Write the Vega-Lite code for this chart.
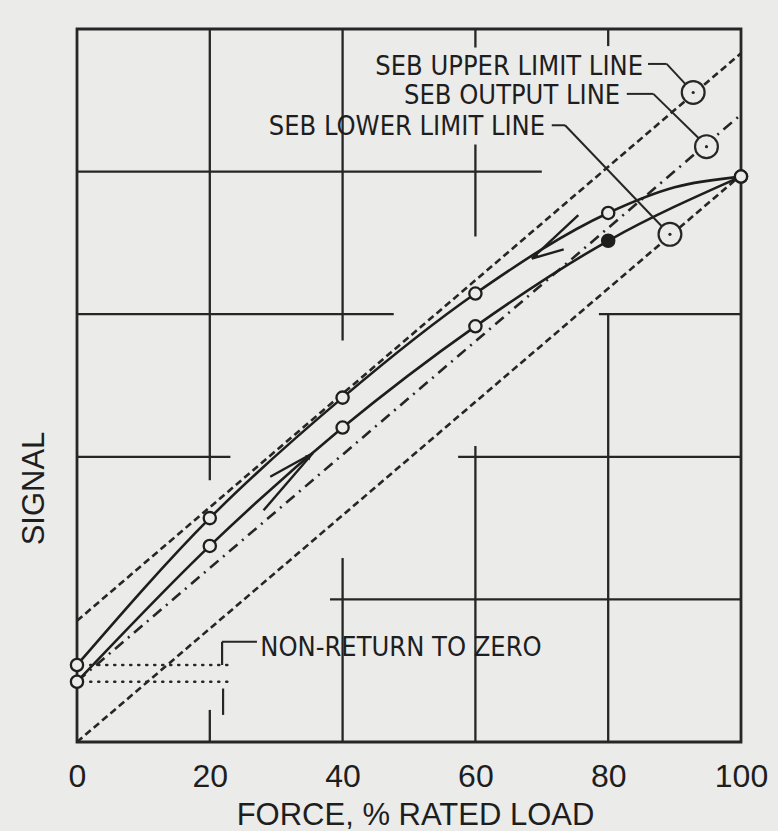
{
  "$schema": "https://vega.github.io/schema/vega-lite/v6.json",
  "width": 664,
  "height": 713,
  "autosize": "none",
  "padding": {"left": 77, "top": 29, "right": 37, "bottom": 89},
  "background": "#ebebea",
  "config": {"view": {"stroke": "#262626", "strokeWidth": 2.8}, "font": "Liberation Sans"},
  "datasets": {
    "curves": [
      {"branch": "Increasing", "force": 0, "signal": 8.45},
      {"branch": "Increasing", "force": 20, "signal": 27.5},
      {"branch": "Increasing", "force": 40, "signal": 44.1},
      {"branch": "Increasing", "force": 60, "signal": 58.3},
      {"branch": "Increasing", "force": 80, "signal": 70.3},
      {"branch": "Increasing", "force": 100, "signal": 79.3},
      {"branch": "Decreasing", "force": 0, "signal": 10.8},
      {"branch": "Decreasing", "force": 20, "signal": 31.4},
      {"branch": "Decreasing", "force": 40, "signal": 48.3},
      {"branch": "Decreasing", "force": 60, "signal": 62.9},
      {"branch": "Decreasing", "force": 80, "signal": 74.2},
      {"branch": "Decreasing", "force": 90, "signal": 77.8},
      {"branch": "Decreasing", "force": 100, "signal": 79.3}
    ],
    "limits": [
      {"line": "SEB UPPER LIMIT LINE", "force": 0, "signal": 17.0},
      {"line": "SEB UPPER LIMIT LINE", "force": 100, "signal": 96.6},
      {"line": "SEB OUTPUT LINE", "force": 0, "signal": 8.5},
      {"line": "SEB OUTPUT LINE", "force": 100, "signal": 88.0},
      {"line": "SEB LOWER LIMIT LINE", "force": 0, "signal": 0},
      {"line": "SEB LOWER LIMIT LINE", "force": 100, "signal": 79.5}
    ],
    "segments": [
      {"kind": "grid", "force": 20, "signal": 100, "force2": 20, "signal2": 36.7},
      {"kind": "grid", "force": 20, "signal": 4.5, "force2": 20, "signal2": 0},
      {"kind": "grid", "force": 40, "signal": 100, "force2": 40, "signal2": 56.3},
      {"kind": "grid", "force": 40, "signal": 25.8, "force2": 40, "signal2": 0},
      {"kind": "grid", "force": 60, "signal": 100, "force2": 60, "signal2": 97.4},
      {"kind": "grid", "force": 60, "signal": 83.8, "force2": 60, "signal2": 70.9},
      {"kind": "grid", "force": 60, "signal": 41.5, "force2": 60, "signal2": 0},
      {"kind": "grid", "force": 80, "signal": 100, "force2": 80, "signal2": 97.6},
      {"kind": "grid", "force": 80, "signal": 60, "force2": 80, "signal2": 0},
      {"kind": "grid", "force": 0, "signal": 80, "force2": 70, "signal2": 80},
      {"kind": "grid", "force": 0, "signal": 60, "force2": 47.7, "signal2": 60},
      {"kind": "grid", "force": 78.6, "signal": 60, "force2": 100, "signal2": 60},
      {"kind": "grid", "force": 0, "signal": 40, "force2": 23.1, "signal2": 40},
      {"kind": "grid", "force": 57.4, "signal": 40, "force2": 100, "signal2": 40},
      {"kind": "grid", "force": 38.1, "signal": 20, "force2": 100, "signal2": 20},
      {"kind": "leader", "force": 86.0, "signal": 95.1, "force2": 88.8, "signal2": 95.1},
      {"kind": "leader", "force": 88.8, "signal": 95.1, "force2": 91.6, "signal2": 92.3},
      {"kind": "leader", "force": 82.8, "signal": 90.9, "force2": 86.8, "signal2": 90.9},
      {"kind": "leader", "force": 86.8, "signal": 90.9, "force2": 93.6, "signal2": 84.7},
      {"kind": "leader", "force": 71.5, "signal": 86.5, "force2": 73.5, "signal2": 86.5},
      {"kind": "leader", "force": 73.5, "signal": 86.5, "force2": 88.1, "signal2": 72.3},
      {"kind": "arrow", "force": 35.5, "signal": 40.5, "force2": 29.1, "signal2": 37.2},
      {"kind": "arrow", "force": 35.5, "signal": 40.5, "force2": 28.1, "signal2": 32.5},
      {"kind": "arrow", "force": 68.5, "signal": 67.8, "force2": 75.5, "signal2": 73.9},
      {"kind": "arrow", "force": 68.5, "signal": 67.8, "force2": 73.3, "signal2": 69.1},
      {"kind": "bracket", "force": 21.85, "signal": 14.06, "force2": 27.1, "signal2": 14.06},
      {"kind": "bracket", "force": 21.85, "signal": 14.06, "force2": 21.85, "signal2": 10.8},
      {"kind": "bracket", "force": 22.0, "signal": 7.5, "force2": 22.0, "signal2": 3.8},
      {"kind": "dotted", "force": 2.0, "signal": 10.8, "force2": 23.1, "signal2": 10.8},
      {"kind": "dotted", "force": 2.0, "signal": 8.45, "force2": 23.6, "signal2": 8.45}
    ],
    "heads": [
      {"branch": "Increasing", "force": 35.0, "signal": 40.1},
      {"branch": "Decreasing", "force": 69.0, "signal": 68.1}
    ],
    "ellipses": [
      {"line": "SEB UPPER LIMIT LINE", "force": 92.8, "signal": 91.1},
      {"line": "SEB OUTPUT LINE", "force": 94.8, "signal": 83.5},
      {"line": "SEB LOWER LIMIT LINE", "force": 89.3, "signal": 71.2}
    ],
    "labels": [
      {"kind": "callout", "text": "SEB UPPER LIMIT LINE", "force": 85.25, "signal": 93.5},
      {"kind": "callout", "text": "SEB OUTPUT LINE", "force": 81.8, "signal": 89.5},
      {"kind": "callout", "text": "SEB LOWER LIMIT LINE", "force": 70.5, "signal": 85.07},
      {"kind": "note", "text": "NON-RETURN TO ZERO", "force": 27.6, "signal": 12.05}
    ]
  },
  "encoding": {
    "x": {
      "field": "force", "type": "quantitative",
      "scale": {"domain": [0, 100], "nice": false, "zero": false},
      "axis": {
        "values": [0, 20, 40, 60, 80, 100], "domain": false, "ticks": false, "grid": false,
        "labelFontSize": 32, "labelColor": "#1e1e1e", "labelPadding": 44, "labelBaseline": "alphabetic", "labelFlush": false,
        "title": "FORCE, % RATED LOAD", "titleFontSize": 31, "titleFontWeight": "normal", "titleColor": "#1e1e1e",
        "titleX": 338, "titleY": 82, "titleBaseline": "alphabetic", "titleAlign": "center", "titleAnchor": null
      }
    },
    "y": {
      "field": "signal", "type": "quantitative",
      "scale": {"domain": [0, 100], "nice": false, "zero": false},
      "axis": {
        "domain": false, "ticks": false, "labels": false, "grid": false,
        "title": "SIGNAL", "titleFontSize": 31, "titleFontWeight": "normal", "titleColor": "#1e1e1e",
        "titleX": -34, "titleY": 459, "titleBaseline": "alphabetic", "titleAlign": "center", "titleAnchor": null, "titleAngle": -90
      }
    }
  },
  "layer": [
    {
      "data": {"name": "segments"},
      "transform": [{"filter": "datum.kind == 'grid'"}],
      "mark": {"type": "rule", "stroke": "#262626", "strokeWidth": 2.3},
      "encoding": {"x2": {"field": "force2"}, "y2": {"field": "signal2"}}
    },
    {
      "data": {"name": "limits"},
      "mark": {"type": "line", "stroke": "#262626", "strokeWidth": 2.6},
      "encoding": {
        "detail": {"field": "line"},
        "strokeDash": {
          "field": "line", "type": "nominal",
          "scale": {"domain": ["SEB UPPER LIMIT LINE", "SEB OUTPUT LINE", "SEB LOWER LIMIT LINE"], "range": [[7, 4], [11, 6, 2, 6], [7, 4]]},
          "legend": null
        }
      }
    },
    {
      "data": {"name": "curves"},
      "mark": {"type": "line", "interpolate": "monotone", "stroke": "#1e1e1e", "strokeWidth": 2.6},
      "encoding": {"detail": {"field": "branch"}}
    },
    {
      "data": {"name": "curves"},
      "transform": [{"filter": "datum.force % 20 == 0"}],
      "mark": {"type": "point", "shape": "circle", "size": 150, "strokeWidth": 2.3, "stroke": "#1e1e1e", "opacity": 1, "filled": false},
      "encoding": {
        "fill": {
          "condition": {"test": "datum.branch == 'Increasing' && datum.force == 80", "value": "#1e1e1e"},
          "value": "#ebebea"
        }
      }
    },
    {
      "data": {"name": "segments"},
      "transform": [{"filter": "datum.kind == 'leader'"}],
      "mark": {"type": "rule", "stroke": "#262626", "strokeWidth": 2},
      "encoding": {"x2": {"field": "force2"}, "y2": {"field": "signal2"}}
    },
    {
      "data": {"name": "segments"},
      "transform": [{"filter": "datum.kind == 'arrow'"}],
      "mark": {"type": "rule", "stroke": "#1e1e1e", "strokeWidth": 2.4},
      "encoding": {"x2": {"field": "force2"}, "y2": {"field": "signal2"}}
    },
    {
      "data": {"name": "heads"},
      "transform": [{"filter": "datum.branch == 'Increasing'"}],
      "mark": {"type": "point", "shape": "triangle-up", "size": 45, "angle": 49, "filled": true, "color": "#1e1e1e", "opacity": 1}
    },
    {
      "data": {"name": "heads"},
      "transform": [{"filter": "datum.branch == 'Decreasing'"}],
      "mark": {"type": "point", "shape": "triangle-up", "size": 45, "angle": 236, "filled": true, "color": "#1e1e1e", "opacity": 1}
    },
    {
      "data": {"name": "segments"},
      "transform": [{"filter": "datum.kind == 'bracket'"}],
      "mark": {"type": "rule", "stroke": "#262626", "strokeWidth": 2.2},
      "encoding": {"x2": {"field": "force2"}, "y2": {"field": "signal2"}}
    },
    {
      "data": {"name": "segments"},
      "transform": [{"filter": "datum.kind == 'dotted'"}],
      "mark": {"type": "rule", "stroke": "#262626", "strokeWidth": 2.6, "strokeDash": [1, 7], "strokeCap": "round"},
      "encoding": {"x2": {"field": "force2"}, "y2": {"field": "signal2"}}
    },
    {
      "data": {"name": "ellipses"},
      "mark": {"type": "point", "shape": "circle", "size": 520, "strokeWidth": 2.2, "stroke": "#262626", "filled": false, "fill": "#ebebea", "opacity": 1}
    },
    {
      "data": {"name": "ellipses"},
      "mark": {"type": "point", "shape": "circle", "size": 10, "filled": true, "color": "#262626", "opacity": 1}
    },
    {
      "data": {"name": "labels"},
      "transform": [{"filter": "datum.kind == 'callout'"}],
      "mark": {"type": "text", "align": "right", "baseline": "alphabetic", "font": "Liberation Sans Narrow, DejaVu Sans Condensed, Liberation Sans", "fontSize": 27, "color": "#1e1e1e"},
      "encoding": {"text": {"field": "text"}}
    },
    {
      "data": {"name": "labels"},
      "transform": [{"filter": "datum.kind == 'note'"}],
      "mark": {"type": "text", "align": "left", "baseline": "alphabetic", "font": "Liberation Sans Narrow, DejaVu Sans Condensed, Liberation Sans", "fontSize": 27, "color": "#1e1e1e"},
      "encoding": {"text": {"field": "text"}}
    }
  ]
}
